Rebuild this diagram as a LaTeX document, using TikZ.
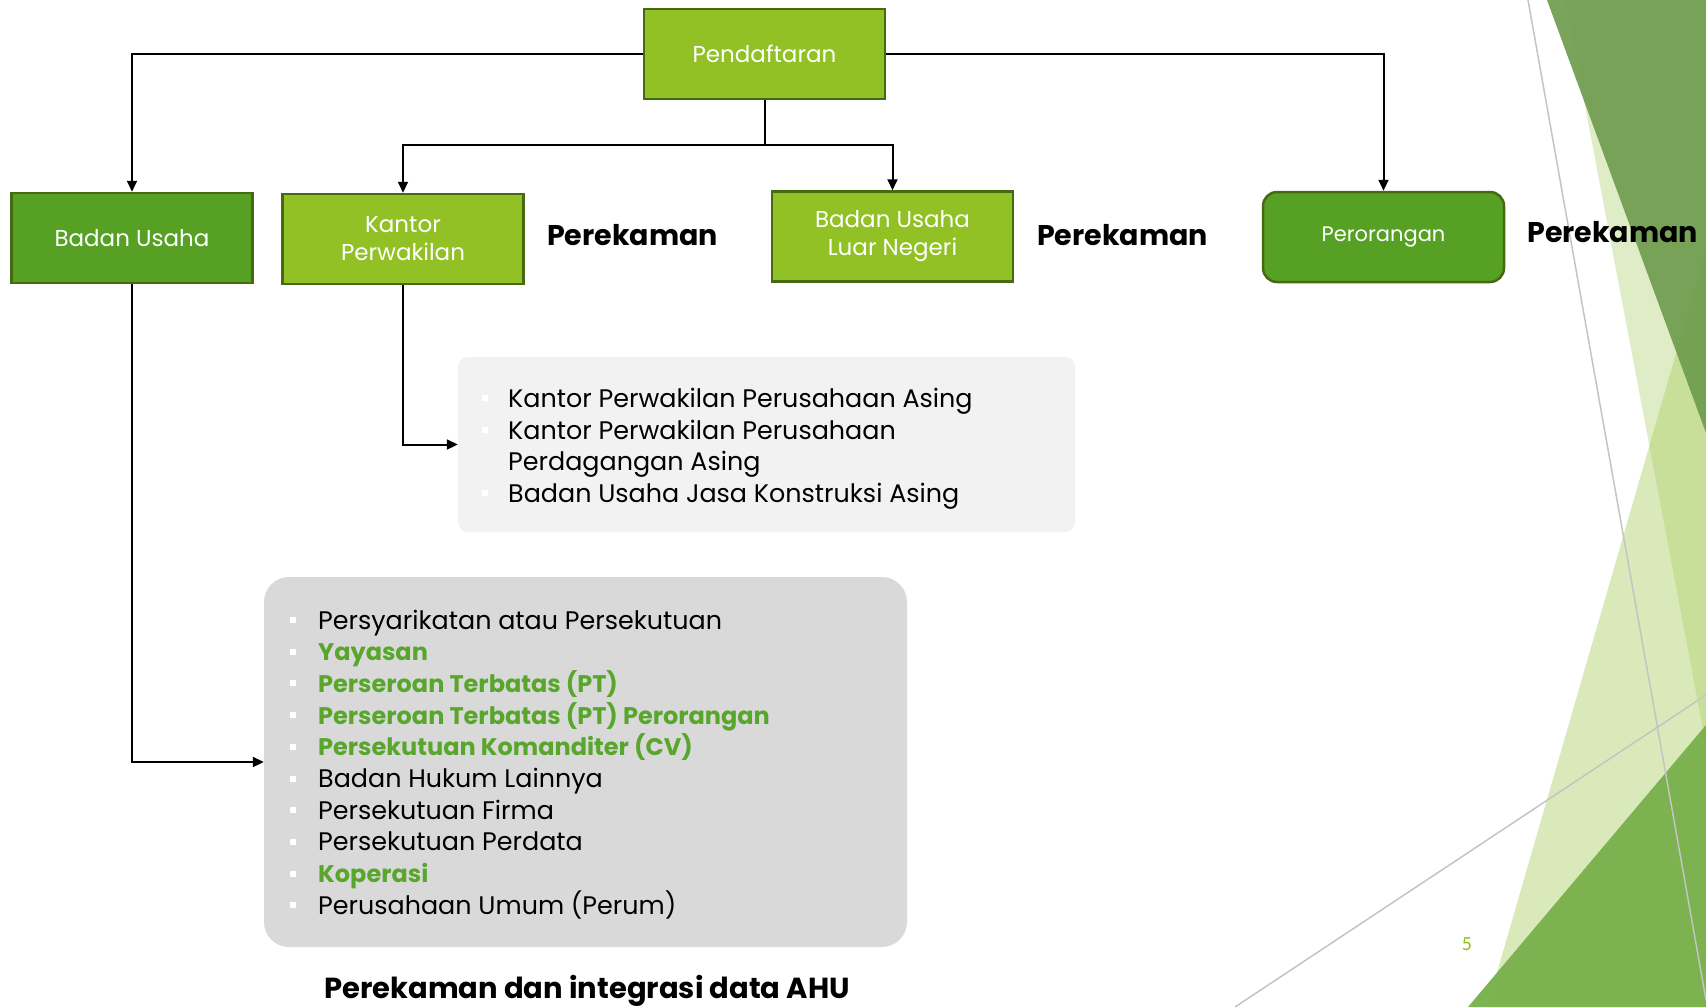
\documentclass[tikz,border=0pt]{standalone}
\usepackage{fontspec}
\setmainfont{Poppins}
\newfontfamily\numfont{Carlito}
\usetikzlibrary{arrows.meta}

\definecolor{lime}{HTML}{92C126}
\definecolor{leaf}{HTML}{56A123}
\definecolor{boxedge}{HTML}{456A12}
\definecolor{textgreen}{HTML}{58A62B}
\definecolor{panellight}{HTML}{F2F2F2}
\definecolor{paneldark}{HTML}{D9D9D9}
\definecolor{facetpale}{HTML}{B0D275}
\definecolor{facetlight}{HTML}{A3CA52}
\definecolor{facetdark}{HTML}{6F9C4E}
\definecolor{facetmid}{HTML}{77B04A}
\definecolor{facetline}{HTML}{C4C4C4}
\definecolor{pagenum}{HTML}{8DC21F}

\tikzset{
  boxbase/.style={draw=boxedge, line width=2.5pt, minimum width=241pt, minimum height=90pt,
    text=white, align=center, font=\fontsize{23}{28}\selectfont, inner sep=0pt},
  limebox/.style={boxbase, fill=lime},
  greenbox/.style={boxbase, fill=leaf},
  arr/.style={draw=black, line width=2pt, -{Triangle[length=11pt,width=10pt]}},
  link/.style={draw=black, line width=2pt},
  item/.style={anchor=base west, inner sep=0pt, font=\fontsize{25.4}{30}\selectfont},
  gitem/.style={item, text=textgreen, font=\bfseries\fontsize{24}{30}\selectfont},
  bullet/.style={fill=white, minimum size=6pt, inner sep=0pt},
  rekam/.style={anchor=west, inner sep=0pt, font=\bfseries\fontsize{28.5}{32}\selectfont},
}

\begin{document}
\begin{tikzpicture}[x=1pt, y=-1pt]
\useasboundingbox (0,0) rectangle (1706,1007);
\fill[white] (0,0) rectangle (1706,1007);

% facet decoration on the right edge
\fill[facetpale, opacity=0.4] (1565,0) -- (1706,0) -- (1706,745) -- cycle;
\fill[facetlight, opacity=0.4] (1706,250) -- (1706,1007) -- (1487,1007) -- cycle;
\fill[facetdark, opacity=0.92] (1547,0) -- (1706,0) -- (1706,433) -- cycle;
\fill[facetmid, opacity=0.95] (1706,725) -- (1706,1007) -- (1468,1007) -- cycle;
\draw[facetline, line width=1.5pt] (1528,0) -- (1706,1000);
\draw[facetline, line width=1.5pt] (1235,1007) -- (1706,695);

% registration boxes
\node[limebox] (pend) at (764.5,54) {Pendaftaran};
\node[greenbox] (bu) at (132,238) {Badan Usaha};
\node[limebox] (kp) at (403,239) {Kantor\\Perwakilan};
\node[limebox] (buln) at (892.5,236.5) {Badan Usaha\\Luar Negeri};
\node[greenbox, rounded corners=14pt, font=\fontsize{21}{26}\selectfont] (per) at (1383.5,237) {Perorangan};

% recording labels
\node[rekam] (rk1) at (547,235) {Perekaman};
\node[rekam] (rk2) at (1037,235) {Perekaman};
\node[rekam] (rk3) at (1527,232) {Perekaman};

% detail panels
\node[fill=panellight, rounded corners=10pt, minimum width=617pt, minimum height=175pt,
      inner sep=0pt] (lb) at (766.5,444.5) {};
\node[fill=paneldark, rounded corners=25pt, minimum width=643pt, minimum height=370pt,
      inner sep=0pt] (db) at (585.5,762) {};

% connectors
\coordinate (split) at (764.5,145);
\draw[arr] (pend.west) -| (bu.north);
\draw[arr] (pend.east) -| (per.north);
\draw[link] (pend.south) -- (split);
\draw[arr] (split) -| (kp.north);
\draw[arr] (split) -| (buln.north);
\draw[arr] (kp.south) |- (lb.west);
\draw[arr] (bu.south) |- (db.west);

% foreign office list
\node[bullet] (lbb1) at (485,398) {};
\node[item] (lbt1) at (508,407) {Kantor Perwakilan Perusahaan Asing};
\node[bullet] (lbb2) at (485,430) {};
\node[item] (lbt2) at (508,439) {Kantor Perwakilan Perusahaan};
\node[item] (lbt2b) at (508,470) {Perdagangan Asing};
\node[bullet] (lbb3) at (485,493) {};
\node[item] (lbt3) at (508,502) {Badan Usaha Jasa Konstruksi Asing};

% business entity list
\foreach \txt/\sty [count=\i] in {
    Persyarikatan atau Persekutuan/item,
    Yayasan/gitem,
    Perseroan Terbatas (PT)/gitem,
    Perseroan Terbatas (PT) Perorangan/gitem,
    Persekutuan Komanditer (CV)/gitem,
    Badan Hukum Lainnya/item,
    Persekutuan Firma/item,
    Persekutuan Perdata/item,
    Koperasi/gitem,
    Perusahaan Umum (Perum)/item} {
  \node[bullet] (dbb\i) at (293,{620+(\i-1)*31.7}) {};
  \node[\sty] (dbt\i) at (318,{629+(\i-1)*31.7}) {\txt};
}

% caption and page number
\node[font=\bfseries\fontsize{29}{32}\selectfont, inner sep=0pt, anchor=base] (cap) at (587,998)
  {Perekaman dan integrasi data AHU};
\node[font=\numfont\fontsize{20}{24}\selectfont, text=pagenum, inner sep=0pt] (pg) at (1467,944) {5};
\end{tikzpicture}
\end{document}
